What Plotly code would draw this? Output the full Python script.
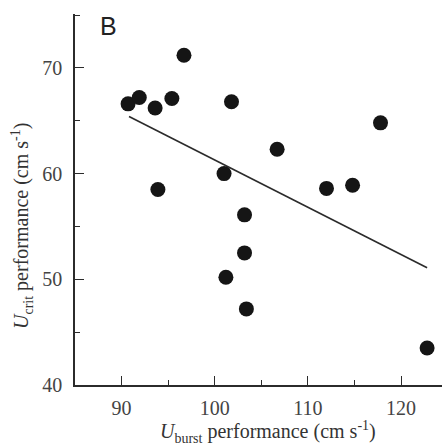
import plotly.graph_objects as go

# Burst swimming speed vs critical swimming speed (cm s^-1)
u_burst = [90.7, 91.9, 93.6, 95.4, 96.7, 93.9, 101.8, 106.7, 117.8, 101.0,
           112.0, 114.8, 103.2, 103.2, 101.2, 103.4, 122.8]
u_crit = [66.6, 67.2, 66.2, 67.1, 71.2, 58.5, 66.8, 62.3, 64.8, 60.0,
          58.6, 58.9, 56.1, 52.5, 50.2, 47.2, 43.5]

# Least-squares fit line end points
fit_x = [90.8, 122.8]
fit_y = [65.4, 51.1]

x_ticks = [90, 100, 110, 120]
y_ticks = [40, 50, 60, 70]

serif = "Liberation Serif, Times New Roman, serif"
ink = "#2b2b2b"

fig = go.Figure()
fig.add_trace(go.Scatter(
    x=fit_x, y=fit_y, mode="lines",
    line=dict(color=ink, width=1.6), showlegend=False, hoverinfo="skip"))
fig.add_trace(go.Scatter(
    x=u_burst, y=u_crit, mode="markers",
    marker=dict(size=15, color="#151515", line=dict(width=0)),
    showlegend=False))

axis_common = dict(
    showline=True, linecolor=ink, linewidth=1.6, mirror=False,
    showgrid=False, zeroline=False,
    ticks="inside", ticklen=9, tickwidth=1.4, tickcolor=ink,
    tickfont=dict(family=serif, size=20, color="#444444"),
    minor=dict(ticks="inside", ticklen=5, tickwidth=1.2, tickcolor=ink, dtick=5),
)

fig.update_xaxes(range=[85, 124.4], tickvals=x_ticks, ticklabelstandoff=4, **axis_common)
fig.update_yaxes(range=[40, 75.1], tickvals=y_ticks, ticklabelstandoff=7, **axis_common)

fig.update_layout(
    width=442, height=445,
    margin=dict(l=75, r=0, t=14, b=60),
    plot_bgcolor="white", paper_bgcolor="white",
    annotations=[
        dict(text="B", x=98, y=26, xref="paper", yref="paper",
             xanchor="left", yanchor="middle", showarrow=False,
             font=dict(family="Liberation Sans", size=25, color="#222222")),
        dict(text="<i>U</i><sub>burst</sub> performance (cm s<sup>-1</sup>)",
             x=268, y=432, xref="paper", yref="paper",
             xanchor="center", yanchor="middle", showarrow=False,
             font=dict(family=serif, size=20, color="#333333")),
        dict(text="<i>U</i><sub>crit</sub> performance (cm s<sup>-1</sup>)",
             x=22, y=226, xref="paper", yref="paper", textangle=-90,
             xanchor="center", yanchor="middle", showarrow=False,
             font=dict(family=serif, size=20, color="#333333")),
    ],
)

# Annotation positions above are given in pixels; convert to paper fractions
W, H = 442, 445
l, r, t, b = 75, 0, 14, 60
pw, ph = W - l - r, H - t - b
for ann in fig.layout.annotations:
    px, py = ann.x, ann.y
    ann.x = (px - l) / pw
    ann.y = (H - b - py) / ph

fig.write_html("out.html")
